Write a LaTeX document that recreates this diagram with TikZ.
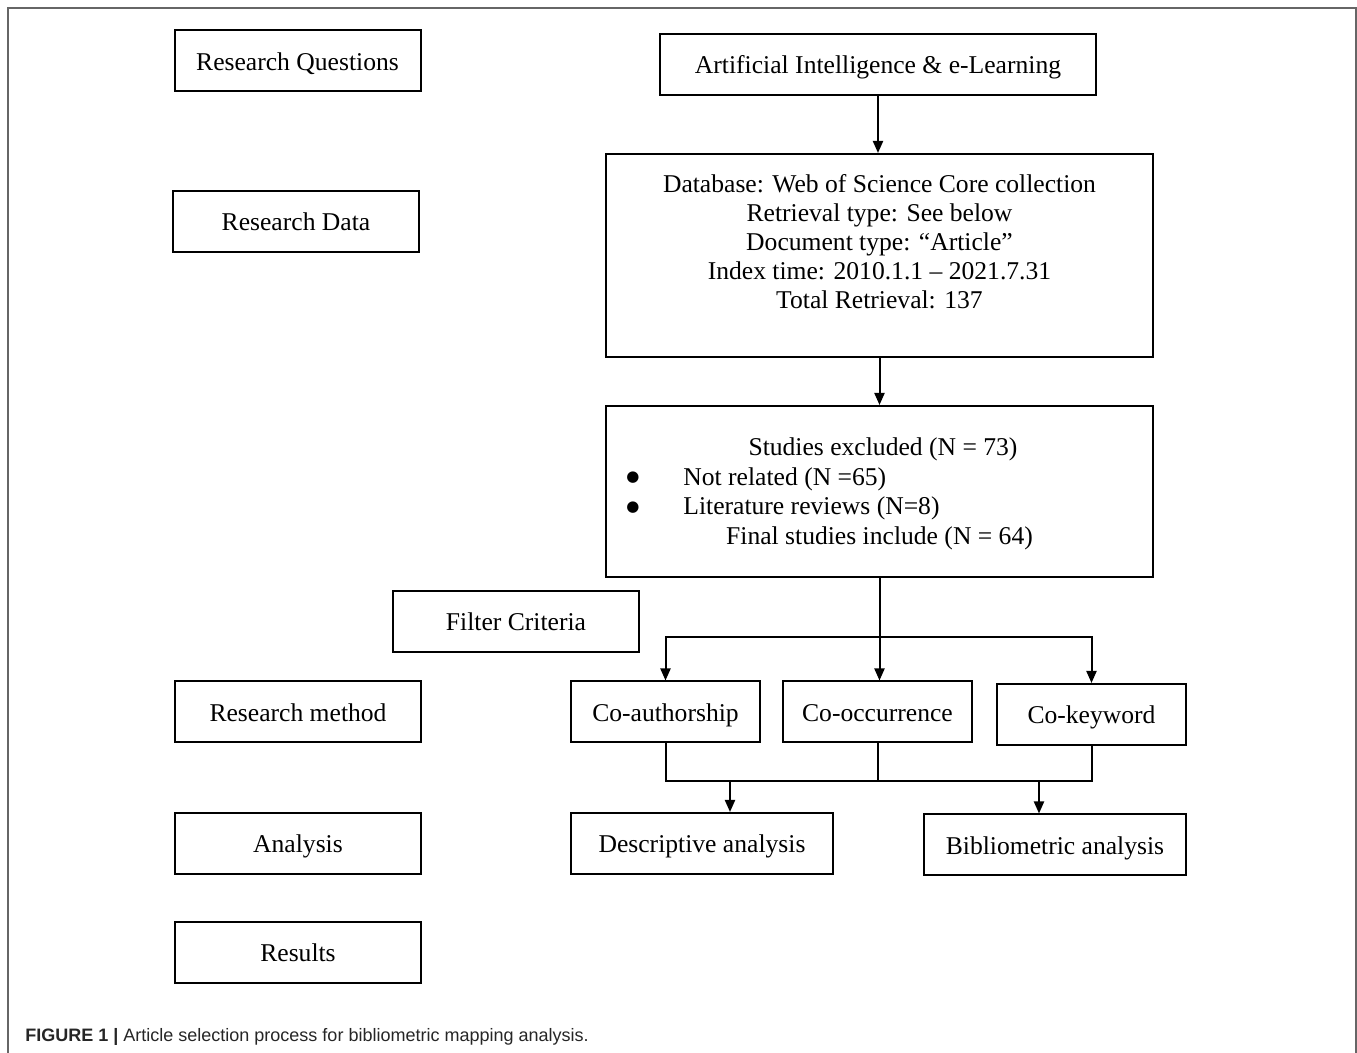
\documentclass[tikz,border=0pt]{standalone}
\usepackage{fontspec}
\setmainfont{Liberation Serif}
\newfontfamily\capfont{Liberation Sans}
\newfontfamily\symfont{DejaVu Sans}
\usetikzlibrary{arrows.meta, positioning}

\begin{document}
\begin{tikzpicture}[
    x=0.5pt, y=-0.5pt,
    box/.style={rectangle, draw=black, line width=1pt, inner sep=0pt, minimum width=123pt, minimum height=30.5pt, text height=9.2pt, text depth=0pt, font=\fontsize{12.8}{14.5}\selectfont},
    cobox/.style={box, minimum width=94.5pt},
    resbox/.style={box, minimum width=131pt},
    bigbox/.style={box, minimum width=273.5pt},
    txt/.style={inner sep=0pt, align=center, font=\fontsize{12.8}{14.5}\selectfont},
    line/.style={line width=1pt},
    arrow/.style={line, -{Triangle[length=6pt, width=5pt]}},
    frame/.style={draw=black!60, line width=1pt}
]
\useasboundingbox (0,0) rectangle (1357,1053);
\draw[frame] (8,1053) -- (8,8) -- (1356,8) -- (1356,1053);

% ==========================================
% LEFT: STAGES
% ==========================================
\node[box] (rq) at (297.5, 61) {Research Questions};
\node[box] (rd) at (296, 221.5) {Research Data};
\node[box] (fc) at (516, 621.5) {Filter Criteria};
\node[box] (rm) at (298, 712) {Research method};
\node[box] (an) at (298, 843.5) {Analysis};
\node[box] (rs) at (298, 952.5) {Results};

% ==========================================
% RIGHT: SELECTION PROCESS
% ==========================================
\node[box, minimum width=218pt] (ai) at (878, 64.5) {Artificial Intelligence \& e-Learning};
\node[bigbox, minimum height=101.5pt] (db) at (879.5, 255.5) {};
\node[txt, below=10.5pt of db.north] (dbt) {Database: Web of Science Core collection\\
    Retrieval type: See below\\
    Document type: “Article”\\
    Index time: 2010.1.1 – 2021.7.31\\
    Total Retrieval: 137};

\node[bigbox, minimum height=85.5pt] (ex) at (879.5, 491.5) {};
\node[txt, anchor=base] (ex1) at (883, 456) {Studies excluded (N = 73)};
\node[txt, anchor=base west] (ex2) at (683, 486) {Not related (N =65)};
\node[txt, anchor=base west] (ex3) at (683, 515) {Literature reviews (N=8)};
\node[txt, anchor=base] (ex4) at (879.5, 545) {Final studies include (N = 64)};
\node[inner sep=0pt, font=\symfont\fontsize{7.5}{8}\selectfont] (bl1) at (633, 478) {●};
\node[inner sep=0pt, font=\symfont\fontsize{7.5}{8}\selectfont] (bl2) at (633, 508) {●};

\node[cobox] (ca) at (665.5, 712) {Co-authorship};
\node[cobox] (co) at (877.5, 712) {Co-occurrence};
\node[cobox] (ck) at (1091.5, 714.5) {Co-keyword};

\node[resbox] (da) at (702, 843.5) {Descriptive analysis};
\node[resbox] (ba) at (1055, 845) {Bibliometric analysis};

\coordinate (sp) at (879, 637);
\coordinate (jn) at (877.5, 781);
\coordinate (dj) at (730, 781);
\coordinate (bj) at (1039, 781);

\draw[arrow] (ai.south) -- (ai.south |- db.north);
\draw[arrow] (db.south) -- (db.south |- ex.north);
\draw[arrow] (ex.south) -- (ex.south |- co.north);
\foreach \n in {ca,ck} {
    \draw[arrow] (sp) -| (\n.north);
}

% Joining lines
\draw[line] (ca.south) |- (jn);
\draw[line] (ck.south) |- (jn);
\draw[line] (co.south) -- (jn);
\draw[arrow] (dj) -- (dj |- da.north);
\draw[arrow] (bj) -- (bj |- ba.north);

% Caption
\node[inner sep=0pt, anchor=base west, font=\capfont\fontsize{9}{11}\selectfont, text=black!85] (cap) at (25, 1042) {\textbf{FIGURE 1 |} Article selection process for bibliometric mapping analysis.};

\end{tikzpicture}
\end{document}
